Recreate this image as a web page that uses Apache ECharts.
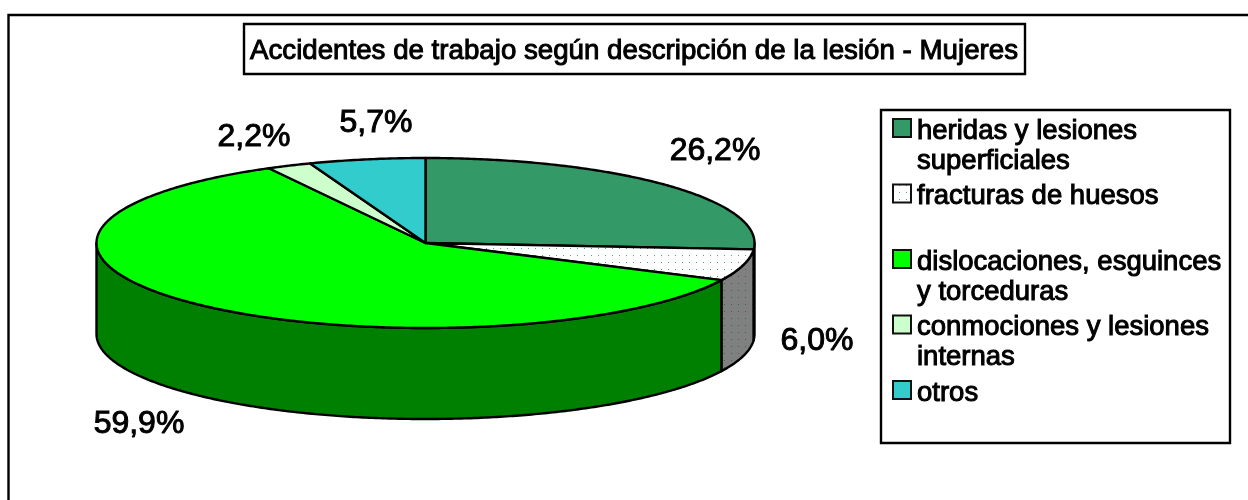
<!DOCTYPE html>
<html>
<head>
<meta charset="utf-8">
<style>html,body{margin:0;padding:0;background:#fff}#chart{width:1248px;height:500px}</style>
<script src="https://cdn.jsdelivr.net/npm/echarts@6/dist/echarts.min.js"></script>
</head>
<body>
<div id="chart"></div>
<script>
var chartTitle = 'Accidentes de trabajo según descripción de la lesión - Mujeres';
var categories = ['heridas y lesiones\nsuperficiales', 'fracturas de huesos', 'dislocaciones, esguinces\ny torceduras', 'conmociones y lesiones\ninternas', 'otros'];
var values = [26.2, 6.0, 59.9, 2.2, 5.7];
var topColors = ['#339966', 'dots', '#00ff00', '#ccffcc', '#33cccc'];
var sideColors = ['#1a4d33', 'dotsGray', '#008000', '#669966', '#1a6666'];
// centre of each percent label, placed by hand as in the original
var labelPos = [[715, 151], [817, 341], [139, 424], [254, 137], [376, 123]];

var cx = 425.5, cy = 243, rx = 329, ry = 85, depth = 91;
var FONT = '"Liberation Sans", Arial, sans-serif';

// white (or gray) background with small green dots
function dotPattern(bg, dot){
  var c = document.createElement('canvas');
  c.width = 7; c.height = 7;
  var g = c.getContext('2d');
  g.fillStyle = bg;
  g.fillRect(0, 0, 7, 7);
  g.fillStyle = dot;
  g.fillRect(3, 3, 1, 1);
  return {image: c, repeat: 'repeat'};
}
var patterns = {dots: dotPattern('#ffffff', '#4fa67c'), dotsGray: dotPattern('#808080', '#266f4a')};
function paint(name){ return patterns[name] || name; }

var total = values.reduce(function(a, b){ return a + b; }, 0);
function startAngle(i){
  var s = 0;
  for(var k = 0; k < i; k++){ s += values[k]; }
  return s / total * Math.PI * 2;
}
function ellipsePt(a, dy){
  return [cx + rx * Math.sin(a), cy - ry * Math.cos(a) + dy];
}
function arc(a0, a1, dy){
  var pts = [], n = Math.max(2, Math.ceil((a1 - a0) / 0.01));
  for(var k = 0; k <= n; k++){ pts.push(ellipsePt(a0 + (a1 - a0) * k / n, dy)); }
  return pts;
}

function renderSide(params, api){
  var i = params.dataIndex;
  var a0 = Math.max(startAngle(i), Math.PI / 2);
  var a1 = Math.min(startAngle(i) + api.value(0) / total * Math.PI * 2, Math.PI * 1.5);
  if(a1 <= a0){ return null; }
  var pts = arc(a0, a1, 0).concat(arc(a0, a1, depth).reverse());
  return {type: 'polygon', shape: {points: pts}, style: {fill: paint(sideColors[i]), stroke: '#000', lineWidth: 2.4, lineJoin: 'round'}};
}
function renderTop(params, api){
  var i = params.dataIndex;
  var a0 = startAngle(i);
  var a1 = a0 + api.value(0) / total * Math.PI * 2;
  var pts = [[cx, cy]].concat(arc(a0, a1, 0));
  return {type: 'polygon', shape: {points: pts}, style: {fill: paint(topColors[i]), stroke: '#000', lineWidth: 2.4, lineJoin: 'round'}};
}
function renderLabel(params, api){
  var i = params.dataIndex;
  return {type: 'text', style: {
    x: labelPos[i][0], y: labelPos[i][1],
    text: api.value(0).toFixed(1).replace('.', ',') + '%',
    font: '32px ' + FONT, fill: '#000', align: 'center', verticalAlign: 'middle',
    stroke: '#000', lineWidth: 1
  }};
}

var legendItems = [];
categories.forEach(function(name, i){
  var y = 119 + i * 65.5;
  legendItems.push({type: 'rect', shape: {x: 893, y: y, width: 18, height: 18},
    style: {fill: paint(topColors[i]), stroke: '#111', lineWidth: 2}});
  legendItems.push({type: 'text', x: 917, y: y - 3, style: {
    text: name, font: '27.5px ' + FONT, lineHeight: 30, fill: '#000',
    stroke: '#000', lineWidth: 1
  }});
});

var myChart = echarts.init(document.getElementById('chart'), null, {renderer: 'canvas'});
myChart.setOption({
  animation: false,
  backgroundColor: '#fff',
  graphic: [
    {type: 'rect', shape: {x: 8.5, y: 15, width: 1400, height: 700}, style: {fill: 'none', stroke: '#000', lineWidth: 2.4}, z: 0},
    {type: 'rect', shape: {x: 244, y: 24, width: 781, height: 50}, style: {fill: '#fff', stroke: '#000', lineWidth: 2.4}, z: 0},
    {type: 'text', x: 634, y: 51, style: {text: chartTitle, font: '27.7px ' + FONT, fill: '#000', align: 'center', verticalAlign: 'middle', stroke: '#000', lineWidth: 1}, z: 1},
    {type: 'rect', shape: {x: 881, y: 110, width: 349, height: 333}, style: {fill: '#fff', stroke: '#000', lineWidth: 2.4}, z: 0},
    {type: 'group', children: legendItems, z: 1}
  ],
  series: [
    {type: 'custom', coordinateSystem: 'none', renderItem: renderSide, data: values, z: 2, silent: true},
    {type: 'custom', coordinateSystem: 'none', renderItem: renderTop, data: values, z: 3, silent: true},
    {type: 'custom', coordinateSystem: 'none', renderItem: renderLabel, data: values, z: 4, silent: true}
  ]
});
</script>
</body>
</html>
